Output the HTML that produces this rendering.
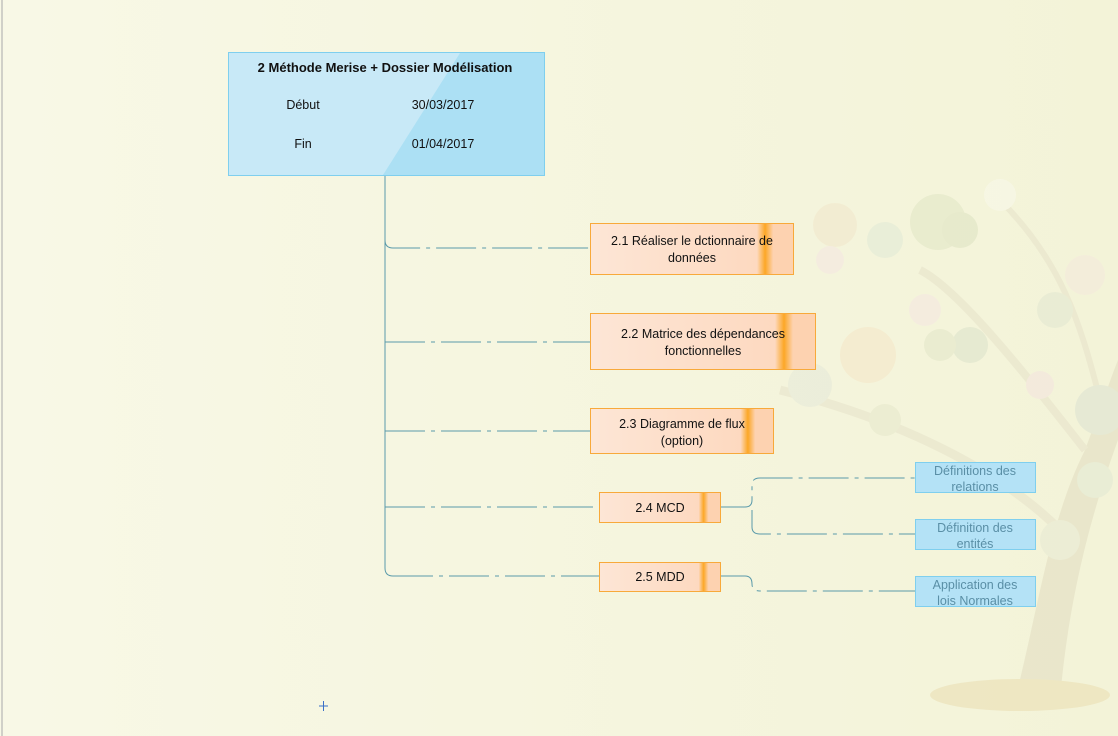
<!DOCTYPE html>
<html><head><meta charset="utf-8"><style>
body{margin:0;width:1118px;height:736px;overflow:hidden;background:#f8f8e6;font-family:"Liberation Sans",sans-serif}
svg{position:absolute;left:0;top:0}
</style></head><body>
<svg width="1118" height="736">
<defs>
<linearGradient id="og" x1="0" x2="1"><stop offset="0" stop-color="#fde6d6"/><stop offset="0.82" stop-color="#fdd9c0"/><stop offset="0.86" stop-color="#fca726"/><stop offset="0.9" stop-color="#fdd2b0"/></linearGradient>
<linearGradient id="bgg" x1="0" x2="1"><stop offset="0" stop-color="#f8f8e6"/><stop offset="1" stop-color="#f3f3d8"/></linearGradient>
</defs>
<rect width="1118" height="736" fill="url(#bgg)"/>
<line x1="2" y1="0" x2="2" y2="736" stroke="#d0d0c8" stroke-width="2"/>
<g opacity="0.45">
<path d="M1015 700 C1040 600 1050 520 1085 450 C1100 410 1110 380 1118 360 L1118 440 C1100 490 1070 580 1060 700 Z" fill="#ded8bc"/>
<path d="M1060 530 C1000 470 900 420 780 390" stroke="#e4dfc6" stroke-width="9" fill="none"/>
<path d="M1085 450 C1030 380 960 290 920 270" stroke="#e4dfc6" stroke-width="8" fill="none"/>
<path d="M1100 400 C1080 320 1060 260 1000 200" stroke="#e4dfc6" stroke-width="6" fill="none"/>
<ellipse cx="1020" cy="695" rx="90" ry="16" fill="#e8d9a8"/>
<circle cx="835" cy="225" r="22" fill="#f1e4c8"/><circle cx="938" cy="222" r="28" fill="#dde3c0"/>
<circle cx="960" cy="230" r="18" fill="#d8e0bc"/><circle cx="885" cy="240" r="18" fill="#dde8d5"/>
<circle cx="1000" cy="195" r="16" fill="#fbfbf0"/><circle cx="868" cy="355" r="28" fill="#f5e3c3"/>
<circle cx="970" cy="345" r="18" fill="#d6dfc8"/><circle cx="940" cy="345" r="16" fill="#e0e4c4"/>
<circle cx="1055" cy="310" r="18" fill="#dfe5d0"/><circle cx="1085" cy="275" r="20" fill="#f5e6dd"/>
<circle cx="810" cy="385" r="22" fill="#e2e6d8"/><circle cx="1100" cy="410" r="25" fill="#d7dfd0"/>
<circle cx="885" cy="420" r="16" fill="#e3e5c8"/><circle cx="1040" cy="385" r="14" fill="#f4e0e0"/>
<circle cx="1095" cy="480" r="18" fill="#dfe6d2"/><circle cx="925" cy="310" r="16" fill="#f4e4e4"/>
<circle cx="830" cy="260" r="14" fill="#f4e4e4"/><circle cx="1060" cy="540" r="20" fill="#e4e7d2"/>
</g>
<g stroke="#5a9aaa" stroke-width="1" fill="none">
<path d="M385 175 V568 Q385 576 393 576"/>
<g stroke-dasharray="40 6 4 6">
<path d="M385 240 Q385 248 393 248 H590"/>
<path d="M385 342 H590"/>
<path d="M385 431 H590"/>
<path d="M385 507 H599"/>
<path d="M393 576 H599"/>
<path d="M720 507 H745 Q752 507 752 500 V485 Q752 478 760 478 H915"/>
<path d="M752 510 V527 Q752 534 760 534 H915"/>
<path d="M720 576 H745 Q752 576 752 584 Q752 591 760 591 H915"/>
</g>
</g>
<g>
<rect x="228.5" y="52.5" width="316" height="123" fill="#c8e9f7" stroke="#7fcfee"/>
<polygon points="460,53 544,53 544,175 383,175" fill="#ace0f4"/>
<rect x="228.5" y="52.5" width="316" height="123" fill="none" stroke="#7fcfee"/>
<text x="385" y="72" text-anchor="middle" font-size="13" font-weight="bold" fill="#111">2 Méthode Merise + Dossier Modélisation</text>
<text x="303" y="109" text-anchor="middle" font-size="12.5" fill="#111">Début</text>
<text x="443" y="109" text-anchor="middle" font-size="12.5" fill="#111">30/03/2017</text>
<text x="303" y="148" text-anchor="middle" font-size="12.5" fill="#111">Fin</text>
<text x="443" y="148" text-anchor="middle" font-size="12.5" fill="#111">01/04/2017</text>
</g>
<g font-size="12.5" fill="#111" text-anchor="middle">
<g><rect x="590.5" y="223.5" width="203" height="51" fill="url(#og)" stroke="#f8a93a"/><text x="692" y="245">2.1 Réaliser le dctionnaire de</text><text x="692" y="262">données</text></g>
<g><rect x="590.5" y="313.5" width="225" height="56" fill="url(#og)" stroke="#f8a93a"/><text x="703" y="338">2.2 Matrice des dépendances</text><text x="703" y="355">fonctionnelles</text></g>
<g><rect x="590.5" y="408.5" width="183" height="45" fill="url(#og)" stroke="#f8a93a"/><text x="682" y="428">2.3 Diagramme de flux</text><text x="682" y="445">(option)</text></g>
<g><rect x="599.5" y="492.5" width="121" height="30" fill="url(#og)" stroke="#f8a93a"/><text x="660" y="512">2.4 MCD</text></g>
<g><rect x="599.5" y="562.5" width="121" height="29" fill="url(#og)" stroke="#f8a93a"/><text x="660" y="581">2.5 MDD</text></g>
</g>
<g font-size="12.5" fill="#5a8fa6" text-anchor="middle">
<g><rect x="915.5" y="462.5" width="120" height="30" fill="#b4e2f6" stroke="#7fcfee"/><text x="975" y="475">Définitions des</text><text x="975" y="491">relations</text></g>
<g><rect x="915.5" y="519.5" width="120" height="30" fill="#b4e2f6" stroke="#7fcfee"/><text x="975" y="532">Définition des</text><text x="975" y="548">entités</text></g>
<g><rect x="915.5" y="576.5" width="120" height="30" fill="#b4e2f6" stroke="#7fcfee"/><text x="975" y="589">Application des</text><text x="975" y="605">lois Normales</text></g>
</g>
<g stroke="#3a6fc8" stroke-width="1"><line x1="319" y1="706" x2="328" y2="706"/><line x1="323.5" y1="701" x2="323.5" y2="711"/></g>
</svg>
</body></html>
